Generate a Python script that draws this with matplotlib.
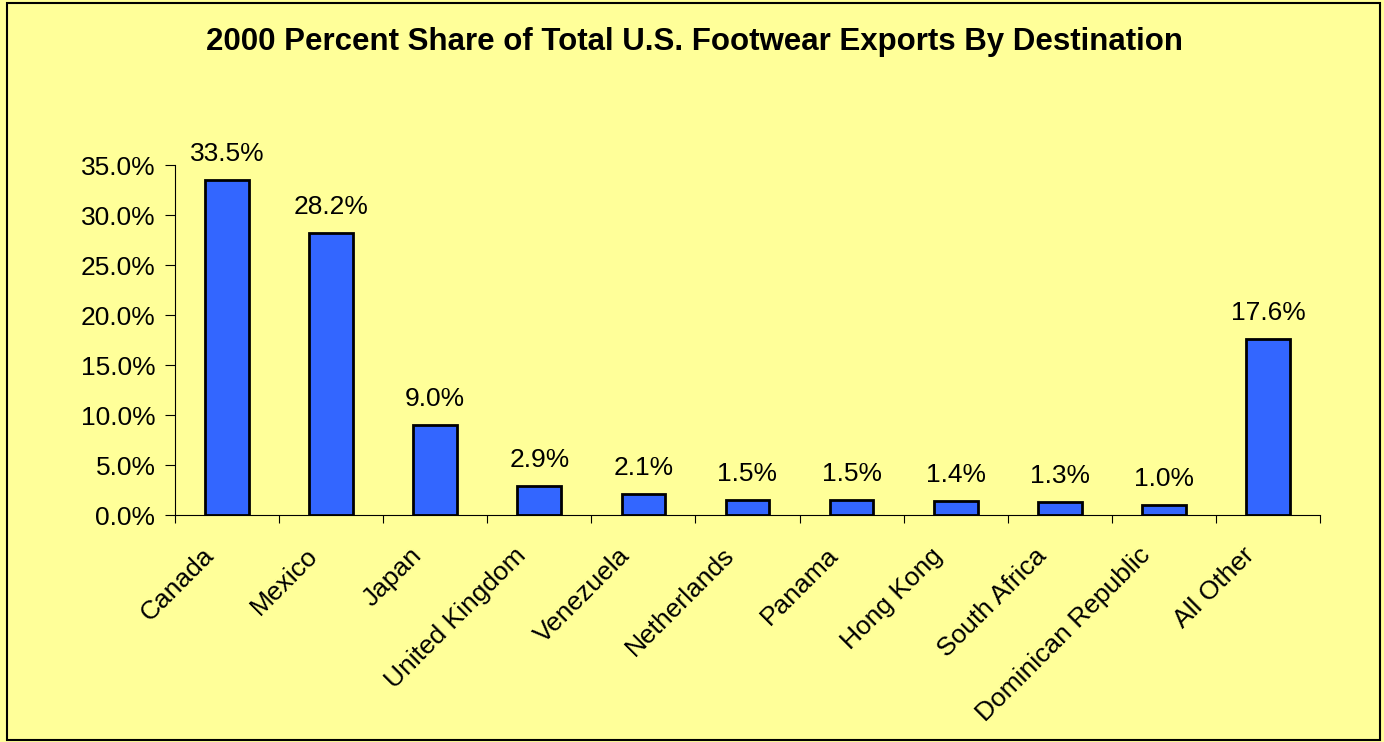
import numpy as np
import matplotlib.pyplot as plt
from matplotlib.patches import Rectangle
from matplotlib.transforms import ScaledTranslation

plt.rcParams['font.family'] = ['Liberation Sans', 'DejaVu Sans']

# ---- data ----
countries = ["Canada", "Mexico", "Japan", "United Kingdom", "Venezuela",
             "Netherlands", "Panama", "Hong Kong", "South Africa",
             "Dominican Republic", "All Other"]
shares = [33.5, 28.2, 9.0, 2.9, 2.1, 1.5, 1.5, 1.4, 1.3, 1.0, 17.6]

bg = "#FFFF99"
bar_color = "#3366FF"
fs = 19

fig = plt.figure(figsize=(13.84, 7.42), dpi=100, facecolor=bg)
ax = fig.add_axes([0.1264, 0.3059, 0.8274, 0.4717], facecolor=bg)

# frame around the whole chart
fig.patches.append(Rectangle((0.005, 0.003), 0.992, 0.993, transform=fig.transFigure,
                             fill=False, edgecolor="black", linewidth=1.5))

x = np.arange(len(countries))
ax.bar(x, shares, width=0.42, color=bar_color, edgecolor="black", linewidth=2)

for xi, v in zip(x, shares):
    ax.annotate(f"{v:.1f}%", (xi, v), xytext=(0, 10), textcoords="offset points",
                ha="center", va="bottom", fontsize=fs)

ax.set_xlim(-0.5, len(countries) - 0.5)
ax.set_ylim(0, 35)
yt = np.arange(0, 36, 5)
ax.set_yticks(yt)
ax.set_yticklabels([f"{t:.1f}%" for t in yt], fontsize=fs)
ax.tick_params(axis="y", direction="out", length=7, width=0.8, pad=7)

ax.set_xticks(x)
ax.set_xticklabels(countries, fontsize=fs, rotation=45, ha="right", va="center",
                   rotation_mode="anchor")
ax.tick_params(axis="x", which="major", length=0, pad=26.5)
# Excel puts the rotated labels a little left of the category centre
shift = ScaledTranslation(-17 / 100, 0, fig.dpi_scale_trans)
for lab in ax.get_xticklabels():
    lab.set_transform(lab.get_transform() + shift)
ax.set_xticks(np.arange(-0.5, len(countries)), minor=True)
ax.tick_params(axis="x", which="minor", direction="out", length=6, width=0.8)

for s in ["top", "right"]:
    ax.spines[s].set_visible(False)
for s in ["left", "bottom"]:
    ax.spines[s].set_linewidth(0.8)

fig.text(0.502, 0.943, "2000 Percent Share of Total U.S. Footwear Exports By Destination",
         ha="center", va="center", fontsize=22.5, fontweight="bold")

fig.savefig("out.png", dpi=100, facecolor=bg)
